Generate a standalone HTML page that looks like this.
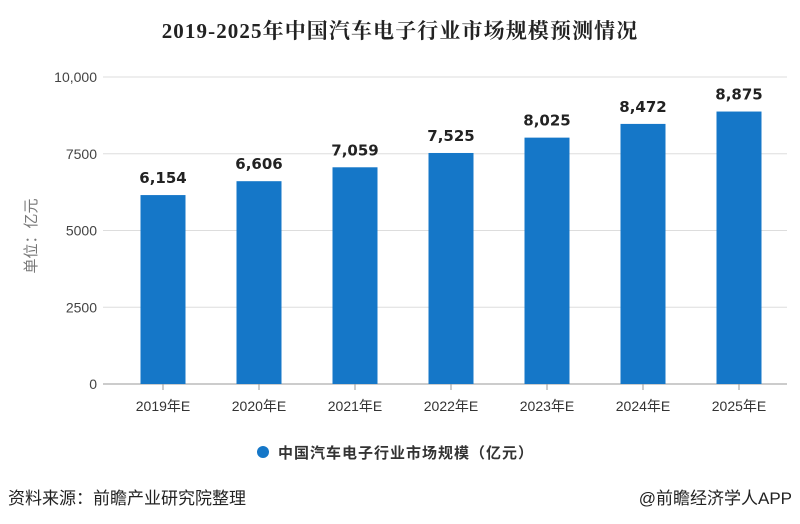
<!DOCTYPE html>
<html><head><meta charset="utf-8">
<style>
body{margin:0;background:#fff;width:800px;height:519px;overflow:hidden;font-family:"Liberation Sans","Noto Sans CJK SC",sans-serif;}
</style></head>
<body>
<svg width="800" height="519" id="svg">
<text x="400" y="38" text-anchor="middle" font-size="21" font-weight="bold" letter-spacing="1.1" fill="#222" font-family="Liberation Serif,Noto Serif CJK SC,serif">2019-2025年中国汽车电子行业市场规模预测情况</text>
<text transform="translate(36,236) rotate(-90)" text-anchor="middle" font-size="15" fill="#777" font-family="Liberation Sans,Noto Sans CJK SC,sans-serif">单位：亿元</text>
<g id="grid"></g><g id="bars"></g><g id="xl"></g>
<circle cx="263" cy="452" r="6" fill="#1577c8"/>
<text x="278" y="458" font-size="15" font-weight="bold" letter-spacing="1" fill="#333" font-family="Liberation Sans,Noto Sans CJK SC,sans-serif">中国汽车电子行业市场规模（亿元）</text>
<text x="8" y="504" font-size="17" fill="#222" font-family="Liberation Sans,Noto Sans CJK SC,sans-serif">资料来源：前瞻产业研究院整理</text>
<text x="792" y="504" text-anchor="end" font-size="17" fill="#222" font-family="Liberation Sans,Noto Sans CJK SC,sans-serif">@前瞻经济学人APP</text>
</svg>
<script>
const categories=["2019年E","2020年E","2021年E","2022年E","2023年E","2024年E","2025年E"];
const values=[6154,6606,7059,7525,8025,8472,8875];
const ticks=[0,2500,5000,7500,10000];
const tickLabels=["0","2500","5000","7500","10,000"];
const NS="http://www.w3.org/2000/svg";
const y0=384,y1=77,xL=115,xR=787,bw=45;
const yS=v=>y0-(v/10000)*(y0-y1);
const band=(xR-xL)/categories.length;
const xS=i=>xL+band*(i+0.5);
function mk(t,a,p){const e=document.createElementNS(NS,t);for(const k in a)e.setAttribute(k,a[k]);p.appendChild(e);return e;}
const g=document.getElementById('grid'),b=document.getElementById('bars'),xl=document.getElementById('xl');
ticks.forEach((t,i)=>{
 const l=mk('line',{x1:103,x2:xR,y1:yS(t),y2:yS(t),stroke:i==0?'#999':'#ddd','stroke-width':1},g);
 
 
 const tx=mk('text',{x:97,y:yS(t)+5,'text-anchor':'end','font-size':14,fill:'#444','font-family':'Liberation Sans,sans-serif'},g);
 tx.textContent=tickLabels[i];
 
 
});
mk('line',{x1:xL,x2:xR,y1:y0,y2:y0,stroke:'#999'},g);
categories.forEach((c,i)=>{
 const r=mk('rect',{x:xS(i)-bw/2,y:yS(values[i]),width:bw,height:y0-yS(values[i]),fill:'#1577c8'},b);
 
 
 const v=mk('text',{x:xS(i),y:yS(values[i])-12,'text-anchor':'middle','font-size':15,'font-weight':'bold',fill:'#222','font-family':'DejaVu Sans,sans-serif'},b);
 v.textContent=values[i].toLocaleString('en-US');
 
 
 mk('line',{x1:xS(i),x2:xS(i),y1:y0,y2:y0+6,stroke:'#999'},xl);
 const t=mk('text',{x:xS(i),y:y0+27,'text-anchor':'middle','font-size':14,fill:'#333','font-family':'Liberation Sans,Noto Sans CJK SC,sans-serif'},xl);
 t.textContent=c;
 
 
});
</script>
</body></html>
